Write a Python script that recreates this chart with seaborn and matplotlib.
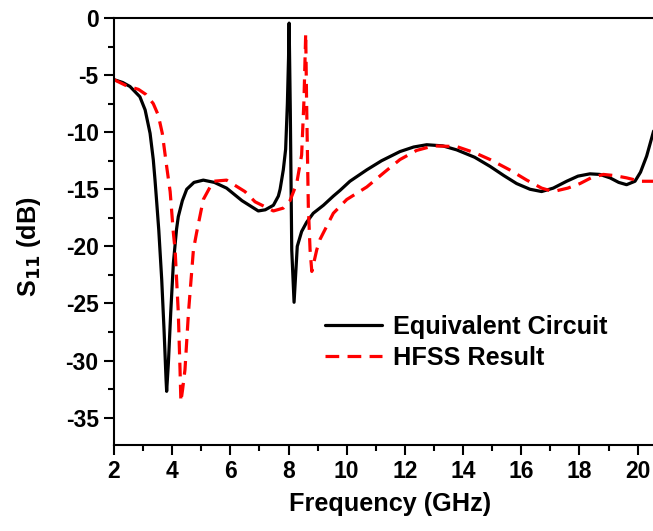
import matplotlib
matplotlib.use("Agg")
import matplotlib.pyplot as plt
import seaborn as sns
import pandas as pd
from matplotlib.ticker import MultipleLocator

# ---- data ----
freq_circuit = [2.0, 2.3, 2.55, 2.89, 3.07, 3.24, 3.35, 3.41, 3.47, 3.54, 3.64, 3.72, 3.79, 3.81,
                3.87, 3.95, 4.04, 4.15, 4.21, 4.35, 4.5, 4.75, 5.07, 5.45, 5.87, 6.4,
                6.96, 7.2, 7.48, 7.65, 7.71, 7.82, 7.9, 7.96, 8.0, 8.02, 8.06, 8.11, 8.19,
                8.3, 8.45, 8.62, 8.85, 9.2, 9.54, 9.77, 10.11, 10.69, 11.2, 11.83, 12.3, 12.75,
                13.3, 13.78, 14.4, 14.93, 15.4, 15.84, 16.3, 16.7, 17.1, 17.56, 17.95,
                18.36, 18.7, 19.05, 19.35, 19.62, 19.91, 20.1, 20.31, 20.55]
s11_circuit = [-5.4, -5.65, -6.0, -6.9, -8.05, -10.1, -12.4, -14.2, -16.2, -18.6, -22.9, -27.3, -31.7, -32.7,
               -30.2, -25.8, -21.5, -18.5, -17.4, -16.0, -15.0, -14.4, -14.2, -14.4, -14.9, -16.0,
               -16.9, -16.8, -16.4, -15.6, -15.0, -13.3, -11.5, -7.5, -3.5, -0.45, -8.0, -20.3, -24.9,
               -20.0, -18.7, -17.9, -17.1, -16.4, -15.6, -15.1, -14.3, -13.3, -12.5, -11.7, -11.3, -11.1,
               -11.2, -11.55, -12.2, -13.0, -13.8, -14.5, -15.0, -15.2, -14.9, -14.3, -13.85,
               -13.65, -13.7, -14.0, -14.4, -14.6, -14.3, -13.5, -12.1, -9.9]

freq_hfss = [2.0, 2.44, 2.84, 3.1, 3.35, 3.52, 3.66, 3.81, 3.93, 4.04, 4.1, 4.21, 4.27, 4.30,
             4.36, 4.44, 4.56, 4.73, 4.84, 5.07, 5.41, 5.87, 6.5, 6.85, 7.48, 7.82, 8.05,
             8.28, 8.45, 8.53, 8.59, 8.62, 8.68, 8.74, 8.80, 8.97, 9.08, 9.54, 10.0, 10.69,
             11.3, 11.83, 12.4, 12.98, 13.78, 14.4, 14.93, 15.6, 16.19, 16.7, 17.1, 17.6,
             18.02, 18.4, 18.82, 19.2, 19.62, 20.1, 20.55]
s11_hfss = [-5.4, -5.95, -6.25, -6.7, -7.5, -8.5, -10.1, -13.0, -15.2, -18.8, -20.3, -25.8, -30.8, -33.6,
            -32.5, -30.8, -25.8, -20.3, -18.8, -15.9, -14.3, -14.2, -15.2, -16.1, -16.9, -16.65, -16.0,
            -14.5, -12.0, -7.2, -1.35, -7.2, -16.5, -20.3, -22.2, -20.3, -19.4, -17.1, -15.9, -14.8,
            -13.5, -12.4, -11.6, -11.2, -11.26, -11.8, -12.4, -13.3, -14.2, -14.9, -15.2, -14.9,
            -14.5, -14.0, -13.7, -13.8, -14.0, -14.3, -14.3]

labels = ["Equivalent Circuit", "HFSS Result"]
x_ticks = [2, 4, 6, 8, 10, 12, 14, 16, 18, 20]
y_ticks = [0, -5, -10, -15, -20, -25, -30, -35]

df_c = pd.DataFrame({"f": freq_circuit, "s": s11_circuit})
df_h = pd.DataFrame({"f": freq_hfss, "s": s11_hfss})

sns.set_style("ticks", {"axes.edgecolor": "black", "text.color": "black",
                        "axes.labelcolor": "black", "xtick.color": "black",
                        "ytick.color": "black"})
plt.rcParams["font.family"] = ["Liberation Sans", "DejaVu Sans"]
plt.rcParams["font.weight"] = "bold"
plt.rcParams["mathtext.default"] = "bf"
plt.rcParams["axes.unicode_minus"] = False
plt.rcParams["text.color"] = "black"

fig = plt.figure(figsize=(6.53, 5.31), dpi=100)
ax_w = (21 - 2) * 29.09 / 653
ax = fig.add_axes([114 / 653, 1 - 445 / 531, ax_w, (445 - 18) / 531])

sns.lineplot(data=df_c, x="f", y="s", ax=ax, color="black", lw=2.3,
             label=labels[0], sort=False)
sns.lineplot(data=df_h, x="f", y="s", ax=ax, color="#ff0000", lw=2.3,
             label=labels[1], sort=False)
ax.lines[1].set_dashes((4.3, 2.6))

ax.set_xlim(2, 21)
ax.set_ylim(-37.4, 0)
ax.set_xticks(x_ticks)
ax.set_yticks(y_ticks)
ax.xaxis.set_minor_locator(MultipleLocator(1))
ax.yaxis.set_minor_locator(MultipleLocator(2.5))
ax.tick_params(axis="both", which="major", length=7, width=1.5, labelsize=16.5,
               direction="out", pad=4, colors="black")
ax.tick_params(axis="both", which="minor", length=4.5, width=1.5, direction="out",
               colors="black")
ax.tick_params(top=False, right=False, which="both")
for lab in ax.get_xticklabels() + ax.get_yticklabels():
    lab.set_fontweight("bold")
for sp in ax.spines.values():
    sp.set_linewidth(1.5)
    sp.set_color("black")
    sp.set_visible(True)

ax.set_xlabel("Frequency (GHz)", fontsize=18.2, fontweight="bold", labelpad=6, color="black")
ax.set_ylabel("S$_{11}$ (dB)", fontsize=18.2, fontweight="bold", color="black")
ax.yaxis.set_label_coords(-0.128, 0.465)

leg = ax.legend(frameon=False, loc="upper left", bbox_to_anchor=(325 / 653, 1 - 315 / 531),
                bbox_transform=fig.transFigure, handlelength=2.25,
                handletextpad=0.45, labelspacing=0.28, borderaxespad=0, borderpad=0,
                prop={"weight": "bold", "size": 18.2})
for t in leg.get_texts():
    t.set_color("black")

fig.savefig("out.png", dpi=100)
